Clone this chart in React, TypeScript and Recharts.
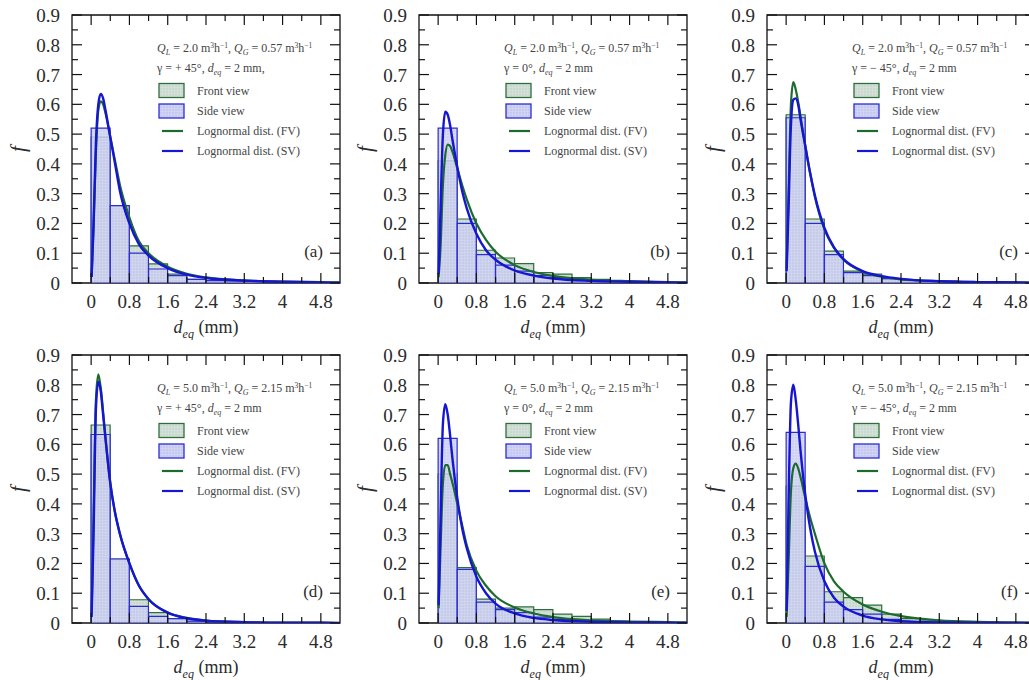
import {
  ComposedChart, Bar, Line, XAxis, YAxis, ReferenceArea, Legend, Label,
} from 'recharts';

// ─── Data ────────────────────────────────────────────────────────────────────

// left edge of each 0.4 mm bin
const BIN_LEFT = [0, 0.4, 0.8, 1.2, 1.6, 2.0, 2.4, 2.8, 3.2, 3.6, 4.0, 4.4, 4.8];

// histogram heights, front view (FV) and side view (SV)
const FV_A = [0.49, 0.26, 0.125, 0.064, 0.03, 0.012, 0.008, 0.006, 0.005, 0.004, 0.003, 0.002, 0.001];
const SV_A = [0.52, 0.26, 0.10, 0.047, 0.025, 0.012, 0.008, 0.007, 0.005, 0.004, 0.003, 0.002, 0.001];
const FV_B = [0.41, 0.215, 0.11, 0.084, 0.065, 0.035, 0.03, 0.018, 0.012, 0.006, 0.004, 0.002, 0.001];
const SV_B = [0.52, 0.20, 0.095, 0.06, 0.04, 0.025, 0.018, 0.01, 0.01, 0.006, 0.004, 0.003, 0.002];
const FV_C = [0.565, 0.215, 0.107, 0.04, 0.03, 0.012, 0.008, 0.006, 0.005, 0.004, 0.003, 0.002, 0.001];
const SV_C = [0.555, 0.20, 0.095, 0.035, 0.025, 0.015, 0.01, 0.008, 0.006, 0.004, 0.003, 0.002, 0.001];
const FV_D = [0.665, 0.215, 0.078, 0.035, 0.012, 0.005, 0.003, 0.002, 0.001, 0.001, 0, 0, 0];
const SV_D = [0.633, 0.215, 0.056, 0.022, 0.015, 0.006, 0.004, 0.003, 0.002, 0.001, 0.001, 0, 0];
const FV_E = [0.50, 0.186, 0.08, 0.05, 0.054, 0.045, 0.03, 0.022, 0.013, 0.006, 0.004, 0.002, 0.001];
const SV_E = [0.62, 0.18, 0.07, 0.045, 0.035, 0.02, 0.012, 0.008, 0.005, 0.003, 0.002, 0.001, 0.001];
const FV_F = [0.46, 0.225, 0.105, 0.085, 0.06, 0.03, 0.015, 0.01, 0.005, 0.003, 0.002, 0.001, 0];
const SV_F = [0.64, 0.19, 0.07, 0.045, 0.03, 0.012, 0.005, 0.003, 0.002, 0.001, 0.001, 0, 0];

// lognormal fits at these diameters (mm)
const CURVE_X = [0.01, 0.05, 0.1, 0.15, 0.2, 0.25, 0.3, 0.4, 0.5, 0.6, 0.8, 1.0, 1.2, 1.6, 2.0, 2.4, 3.2, 4.0, 4.8, 5.2];

const FIT_FV_A = [0.02, 0.18, 0.44, 0.58, 0.61, 0.60, 0.57, 0.49, 0.41, 0.33, 0.22, 0.14, 0.10, 0.055, 0.031, 0.019, 0.009, 0.005, 0.003, 0.002];
const FIT_SV_A = [0.02, 0.20, 0.47, 0.60, 0.635, 0.62, 0.58, 0.49, 0.40, 0.31, 0.20, 0.13, 0.092, 0.05, 0.028, 0.017, 0.008, 0.004, 0.002, 0.001];
const FIT_FV_B = [0.02, 0.12, 0.33, 0.43, 0.465, 0.46, 0.44, 0.385, 0.33, 0.28, 0.20, 0.145, 0.105, 0.06, 0.037, 0.024, 0.011, 0.006, 0.003, 0.002];
const FIT_SV_B = [0.03, 0.25, 0.50, 0.575, 0.565, 0.53, 0.48, 0.39, 0.31, 0.25, 0.165, 0.11, 0.078, 0.042, 0.025, 0.015, 0.007, 0.004, 0.002, 0.001];
const FIT_FV_C = [0.05, 0.30, 0.60, 0.675, 0.65, 0.61, 0.56, 0.46, 0.37, 0.29, 0.18, 0.118, 0.078, 0.038, 0.021, 0.012, 0.006, 0.003, 0.002, 0.001];
const FIT_SV_C = [0.04, 0.25, 0.53, 0.615, 0.62, 0.60, 0.55, 0.46, 0.37, 0.295, 0.185, 0.12, 0.08, 0.04, 0.023, 0.014, 0.006, 0.003, 0.002, 0.001];
const FIT_FV_D = [0.03, 0.35, 0.75, 0.835, 0.79, 0.71, 0.62, 0.47, 0.37, 0.30, 0.20, 0.125, 0.08, 0.035, 0.017, 0.008, 0.003, 0.001, 0.001, 0];
const FIT_SV_D = [0.02, 0.30, 0.72, 0.81, 0.78, 0.70, 0.62, 0.47, 0.37, 0.30, 0.20, 0.125, 0.08, 0.035, 0.016, 0.008, 0.003, 0.001, 0.001, 0];
const FIT_FV_E = [0.05, 0.25, 0.47, 0.53, 0.53, 0.50, 0.47, 0.40, 0.33, 0.26, 0.175, 0.125, 0.09, 0.052, 0.032, 0.02, 0.009, 0.005, 0.003, 0.002];
const FIT_SV_E = [0.06, 0.35, 0.67, 0.735, 0.70, 0.63, 0.55, 0.42, 0.32, 0.25, 0.155, 0.10, 0.065, 0.032, 0.017, 0.01, 0.004, 0.002, 0.001, 0];
const FIT_FV_F = [0.02, 0.20, 0.44, 0.52, 0.535, 0.52, 0.49, 0.42, 0.355, 0.30, 0.20, 0.14, 0.105, 0.062, 0.038, 0.023, 0.009, 0.004, 0.002, 0.001];
const FIT_SV_F = [0.04, 0.40, 0.74, 0.80, 0.75, 0.67, 0.58, 0.43, 0.32, 0.24, 0.14, 0.085, 0.055, 0.025, 0.012, 0.006, 0.002, 0.001, 0, 0];

const PANEL_LETTERS = ['(a)', '(b)', '(c)', '(d)', '(e)', '(f)'];
const QL_VALUES = ['2.0', '2.0', '2.0', '5.0', '5.0', '5.0'];
const QG_VALUES = ['0.57', '0.57', '0.57', '2.15', '2.15', '2.15'];
const GAMMA_LABELS = ['+ 45°', '0°', '− 45°', '+ 45°', '0°', '− 45°'];
const DEQ_SUFFIX = [' = 2 mm,', ' = 2 mm', ' = 2 mm', ' = 2 mm', ' = 2 mm', ' = 2 mm'];

const X_MAJOR = [0, 0.8, 1.6, 2.4, 3.2, 4, 4.8];
const X_MINOR = [0.4, 1.2, 2, 2.8, 3.6, 4.4];
const X_LABELS = ['0', '0.8', '1.6', '2.4', '3.2', '4', '4.8'];
const Y_MAJOR = [0, 0.1, 0.2, 0.3, 0.4, 0.5, 0.6, 0.7, 0.8, 0.9];
const Y_MINOR = [0.05, 0.15, 0.25, 0.35, 0.45, 0.55, 0.65, 0.75, 0.85];
const Y_LABELS = ['0', '0.1', '0.2', '0.3', '0.4', '0.5', '0.6', '0.7', '0.8', '0.9'];

const LEGEND_ORDER = ['Front view', 'Side view', 'Lognormal dist. (FV)', 'Lognormal dist. (SV)'];

// ─── Style ───────────────────────────────────────────────────────────────────

const FONT = "'Liberation Serif', 'Times New Roman', serif";
const INK = '#2b2b2b';
const FV_LINE = '#1d6a2e';
const SV_LINE = '#1616d2';
const FV_EDGE = '#2f6d3d';
const SV_EDGE = '#2b2bd4';

const W = 360;
const H = 340;
const MARGIN = { top: 15, right: 20, bottom: 0, left: 12 };
const Y_AXIS_W = 60;
const X_AXIS_H = 57;
const PLOT_W = W - MARGIN.left - MARGIN.right - Y_AXIS_W;
const PLOT_H = H - MARGIN.top - MARGIN.bottom - X_AXIS_H;

const COL_LEFT = [0, 347, 695];
const ROW_TOP = [0, 340];

// ─── Axis pieces ─────────────────────────────────────────────────────────────

function XTick(props: any) {
  const { x, y, payload } = props;
  const mi = X_MAJOR.indexOf(payload.value);
  const len = mi >= 0 ? 10 : 6;
  return (
    <g>
      <line x1={x} y1={y} x2={x} y2={y - len} stroke="#111" strokeWidth={1.2} />
      <line x1={x} y1={y - PLOT_H} x2={x} y2={y - PLOT_H + len} stroke="#111" strokeWidth={1.2} />
      {mi >= 0 && (
        <text x={x} y={y + 25} textAnchor="middle" fontSize={19} fill={INK} fontFamily={FONT}>
          {X_LABELS[mi]}
        </text>
      )}
    </g>
  );
}

function YTick(props: any) {
  const { x, y, payload } = props;
  const mi = Y_MAJOR.indexOf(payload.value);
  const len = mi >= 0 ? 10 : 6;
  return (
    <g>
      <line x1={x} y1={y} x2={x + len} y2={y} stroke="#111" strokeWidth={1.2} />
      <line x1={x + PLOT_W} y1={y} x2={x + PLOT_W - len} y2={y} stroke="#111" strokeWidth={1.2} />
      {mi >= 0 && (
        <text x={x - 12} y={y + 7} textAnchor="end" fontSize={19} fill={INK} fontFamily={FONT}>
          {Y_LABELS[mi]}
        </text>
      )}
    </g>
  );
}

function XTitle(props: any) {
  const vb = props.viewBox;
  return (
    <text x={vb.x + vb.width / 2} y={vb.y + 50} textAnchor="middle" fontSize={18} fill={INK} fontFamily={FONT}>
      <tspan fontStyle="italic">d</tspan>
      <tspan fontStyle="italic" fontSize={12} dy={5}>eq</tspan>
      <tspan dy={-5}> (mm)</tspan>
    </text>
  );
}

function YTitle(props: any) {
  const vb = props.viewBox;
  const cx = vb.x + 6;
  const cy = vb.y + vb.height / 2;
  return (
    <text x={cx} y={cy} transform={`rotate(-90 ${cx} ${cy})`} textAnchor="middle"
      dominantBaseline="central" fontSize={21} fontStyle="italic" fill={INK} fontFamily={FONT}>
      f
    </text>
  );
}

// ─── Overlay: condition text, legend, panel letter ───────────────────────────

function Overlay({ payload, idx, pid }: any) {
  const items = [...(payload || [])].sort(
    (a: any, b: any) => LEGEND_ORDER.indexOf(a.value) - LEGEND_ORDER.indexOf(b.value),
  );
  const rowY = [90.5, 111, 131, 151];
  return (
    <svg width={W} height={H} style={{ position: 'absolute', left: 0, top: 0 }} fontFamily={FONT}>
      <text x={157} y={52} fontSize={12} fill="#444">
        <tspan fontStyle="italic">Q</tspan>
        <tspan fontStyle="italic" fontSize={8} dy={2.5}>L</tspan>
        <tspan dy={-2.5}>{` = ${QL_VALUES[idx]} m`}</tspan>
        <tspan fontSize={7.5} dy={-4}>3</tspan>
        <tspan dy={4}>h</tspan>
        <tspan fontSize={7.5} dy={-4}>−1</tspan>
        <tspan dy={4}>{', '}</tspan>
        <tspan fontStyle="italic">Q</tspan>
        <tspan fontStyle="italic" fontSize={8} dy={2.5}>G</tspan>
        <tspan dy={-2.5}>{` = ${QG_VALUES[idx]} m`}</tspan>
        <tspan fontSize={7.5} dy={-4}>3</tspan>
        <tspan dy={4}>h</tspan>
        <tspan fontSize={7.5} dy={-4}>−1</tspan>
      </text>
      <text x={157} y={72} fontSize={12} fill="#444">
        <tspan>{`γ = ${GAMMA_LABELS[idx]}, `}</tspan>
        <tspan fontStyle="italic">d</tspan>
        <tspan fontStyle="italic" fontSize={8} dy={2.5}>eq</tspan>
        <tspan dy={-2.5}>{DEQ_SUFFIX[idx]}</tspan>
      </text>
      {items.map((it: any, i: number) => {
        const cy = rowY[i];
        const isFV = it.value.includes('FV') || it.value === 'Front view';
        return (
          <g key={it.value}>
            {it.type === 'line' ? (
              <line x1={162} x2={183} y1={cy} y2={cy} stroke={isFV ? FV_LINE : SV_LINE} strokeWidth={2.2} />
            ) : (
              <rect x={159} y={cy - 7} width={25} height={14}
                fill={`url(#${isFV ? 'pf' : 'ps'}${pid})`} stroke={isFV ? FV_EDGE : SV_EDGE} strokeWidth={1.3} />
            )}
            <text x={197} y={cy + 4} fontSize={12} fill="#444">{it.value}</text>
          </g>
        );
      })}
      <text x={MARGIN.left + Y_AXIS_W + PLOT_W - 17} y={257} textAnchor="end" fontSize={17} fill={INK}>
        {PANEL_LETTERS[idx]}
      </text>
    </svg>
  );
}

// ─── Panel ───────────────────────────────────────────────────────────────────

function Panel({ idx, fv, sv, fitFv, fitSv }: any) {
  const pid = `p${idx}`;
  // leading empty slot covers the -0.4..0 band left of zero
  const bins = [{ bin: -0.4 }, ...BIN_LEFT.map((b, i) => ({ bin: b, fv: fv[i], sv: sv[i] }))];
  const fvCurve = CURVE_X.map((x, i) => ({ x, y: fitFv[i] }));
  const svCurve = CURVE_X.map((x, i) => ({ x, y: fitSv[i] }));

  return (
    <ComposedChart width={W} height={H} data={bins} margin={MARGIN} barCategoryGap={0} barGap={0}>
      <defs>
        <pattern id={`pf${pid}`} width={3} height={3} patternUnits="userSpaceOnUse">
          <rect width={3} height={3} fill="#c9d9cf" />
          <path d="M0 0.5H3M0.5 0V3" stroke="#dbe7df" strokeWidth={0.5} />
        </pattern>
        <pattern id={`ps${pid}`} width={3} height={3} patternUnits="userSpaceOnUse">
          <rect width={3} height={3} fill="#c6c9ef" />
          <path d="M0 0.5H3M0.5 0V3" stroke="#d8daf5" strokeWidth={0.5} />
        </pattern>
      </defs>

      <XAxis
        xAxisId="num" dataKey="x" type="number" domain={[-0.4, 5.2]} allowDataOverflow
        ticks={[...X_MAJOR, ...X_MINOR]} interval={0} tickSize={0} tickMargin={0}
        tickLine={false} axisLine={false} tick={XTick} height={X_AXIS_H}
      >
        <Label content={XTitle} />
      </XAxis>
      <XAxis xAxisId="bf" dataKey="bin" type="category" hide height={0} />
      <XAxis xAxisId="bs" dataKey="bin" type="category" hide height={0} />
      <YAxis
        type="number" domain={[0, 0.9]} allowDataOverflow
        ticks={[...Y_MAJOR, ...Y_MINOR]} interval={0} tickSize={0} tickMargin={0}
        tickLine={false} axisLine={false} tick={YTick} width={Y_AXIS_W}
      >
        <Label content={YTitle} />
      </YAxis>

      <Bar xAxisId="bf" dataKey="fv" name="Front view" fill={`url(#pf${pid})`}
        stroke={FV_EDGE} strokeWidth={1.2} isAnimationActive={false} />
      <Bar xAxisId="bs" dataKey="sv" name="Side view" fill={`url(#ps${pid})`} fillOpacity={0.85}
        stroke={SV_EDGE} strokeWidth={1.2} isAnimationActive={false} />

      <Line xAxisId="num" data={fvCurve} dataKey="y" name="Lognormal dist. (FV)" type="monotone"
        stroke={FV_LINE} strokeWidth={2.2} dot={false} activeDot={false} isAnimationActive={false} />
      <Line xAxisId="num" data={svCurve} dataKey="y" name="Lognormal dist. (SV)" type="monotone"
        stroke={SV_LINE} strokeWidth={2.4} dot={false} activeDot={false} isAnimationActive={false} />

      <ReferenceArea xAxisId="num" x1={-0.4} x2={5.2} y1={0} y2={0.9}
        fill="none" stroke="#111" strokeWidth={1.3} ifOverflow="visible" />

      <Legend
        layout="vertical" align="center" verticalAlign="middle" width={W} height={H}
        wrapperStyle={{ left: 0, top: 0, pointerEvents: 'none' }}
        content={(props: any) => <Overlay payload={props.payload} idx={idx} pid={pid} />}
      />
    </ComposedChart>
  );
}

const PANELS = [
  { fv: FV_A, sv: SV_A, fitFv: FIT_FV_A, fitSv: FIT_SV_A },
  { fv: FV_B, sv: SV_B, fitFv: FIT_FV_B, fitSv: FIT_SV_B },
  { fv: FV_C, sv: SV_C, fitFv: FIT_FV_C, fitSv: FIT_SV_C },
  { fv: FV_D, sv: SV_D, fitFv: FIT_FV_D, fitSv: FIT_SV_D },
  { fv: FV_E, sv: SV_E, fitFv: FIT_FV_E, fitSv: FIT_SV_E },
  { fv: FV_F, sv: SV_F, fitFv: FIT_FV_F, fitSv: FIT_SV_F },
];

export default function App() {
  return (
    <div style={{
      position: 'absolute', left: 0, top: 0, width: 1029, height: 680,
      overflow: 'hidden', background: '#fff', fontFamily: FONT,
    }}>
      {PANELS.map((p, i) => (
        <div key={i} style={{
          position: 'absolute', left: COL_LEFT[i % 3], top: ROW_TOP[Math.floor(i / 3)],
          width: W, height: H,
        }}>
          <Panel idx={i} {...p} />
        </div>
      ))}
    </div>
  );
}
